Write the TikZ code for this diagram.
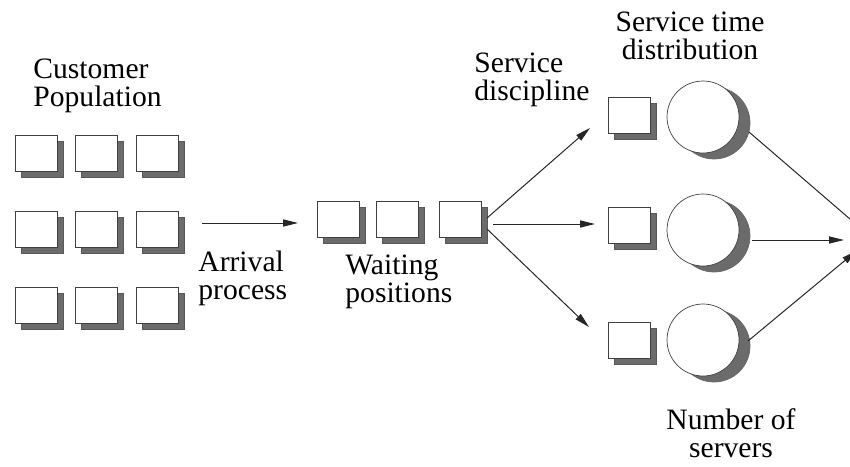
\documentclass[tikz,border=0pt]{standalone}
\usepackage{fontspec}
\setmainfont{Liberation Serif}
\usetikzlibrary{arrows.meta}
% one unit = one pixel of an 850 x 466 canvas, y growing downwards
\begin{document}
\begin{tikzpicture}[x=0.5pt,y=-0.5pt,
  face/.style={draw=black!75, line width=0.35pt, fill=white,
    minimum width=21pt, minimum height=18pt, inner sep=0pt, outer sep=0pt},
  shadebox/.style={draw=black!65, line width=0.35pt, fill=black!58,
    minimum width=21pt, minimum height=18pt, inner sep=0pt, outer sep=0pt},
  disc/.style={circle, draw=black!75, line width=0.35pt, fill=white,
    minimum size=36pt, inner sep=0pt, outer sep=0pt},
  discshade/.style={circle, draw=black!60, line width=0.35pt, fill=black!58,
    minimum size=36pt, inner sep=0pt, outer sep=0pt},
  link/.style={line width=0.5pt, draw=black!85},
  arr/.style={link, -{Triangle[length=7.5pt,width=3.6pt]}},
  lbl/.style={font=\fontsize{14.8}{13.7}\selectfont, inner sep=0pt}
]
\useasboundingbox (0,0) rectangle (850,466);
\clip (0,0) rectangle (850,466);

% a square with its drop shadow: name, centre x, centre y
\newcommand\qbox[3]{%
  \node[shadebox] (#1s) at (#2+6,#3+6) {};
  \node[face] (#1) at (#2,#3) {};}
% a server disc with its shadow: name, centre x, centre y
\newcommand\qdisc[3]{%
  \node[discshade] (#1s) at (#2+11,#3+6) {};
  \node[disc] (#1) at (#2,#3) {};}

% customer population
\qbox{c11}{36.5}{153}  \qbox{c12}{96.5}{153}  \qbox{c13}{157.5}{153}
\qbox{c21}{36.5}{229}  \qbox{c22}{96.5}{229}  \qbox{c23}{157.5}{229}
\qbox{c31}{36.5}{305}  \qbox{c32}{96.5}{305}  \qbox{c33}{157.5}{305}

% waiting positions
\qbox{w1}{338}{219.5}  \qbox{w2}{397.5}{219.5}  \qbox{w3}{460.5}{219.5}

% servers
\qbox{s1}{629}{115}    \qdisc{d1}{703}{117}
\qbox{s2}{629}{225}    \qdisc{d2}{703}{230}
\qbox{s3}{629}{340.5}  \qdisc{d3}{703}{340}

% connector end points
\coordinate (arrA) at (202,223);  \coordinate (arrB) at (298,223);
\coordinate (fanT) at (487,218);  \coordinate (toS1) at (590,128);
\coordinate (fanM) at (493,224);  \coordinate (toS2) at (595,224);
\coordinate (fanB) at (487,229);  \coordinate (toS3) at (589,327);
\coordinate (outT) at (749,132);
\coordinate (outM) at (752,240);  \coordinate (exitM) at (844,240);
\coordinate (outB) at (748,341);
\coordinate (exit) at (872,238);

% arrival process
\draw[arr] (arrA) -- (arrB);
% service discipline
\draw[arr] (fanT) -- (toS1);
\draw[arr] (fanM) -- (toS2);
\draw[arr] (fanB) -- (toS3);
% departures
\draw[arr] (outT) -- (exit);
\draw[arr] (outM) -- (exitM);
\draw[arr, shorten >=10pt] (outB) -- (exit);

% labels (anchored on the baseline of their last line)
\node[lbl, anchor=base west, align=left] (tPop) at (33,106) {Customer\\Population};
\node[lbl, anchor=base west, align=left] (tArr) at (198,299) {Arrival\\process};
\node[lbl, anchor=base west, align=left] (tWait) at (345,302) {Waiting\\positions};
\node[lbl, anchor=base west, align=left] (tDisc) at (474,100) {Service\\discipline};
\node[lbl, anchor=base, align=center] (tTime) at (690,59) {Service time\\distribution};
\node[lbl, anchor=base, align=center] (tNum) at (731,457) {Number of\\servers};
\end{tikzpicture}
\end{document}
